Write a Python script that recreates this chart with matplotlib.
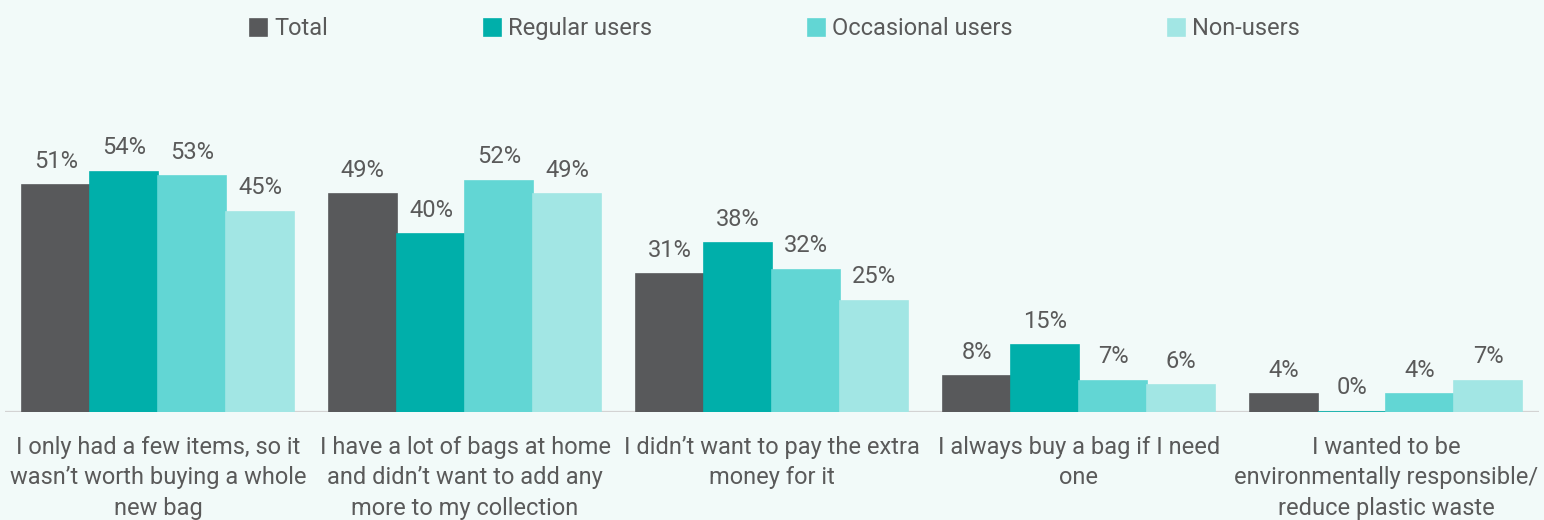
import matplotlib
matplotlib.use("Agg")
import matplotlib.pyplot as plt
import numpy as np

categories = [
    "I only had a few items, so it\nwasn\u2019t worth buying a whole\nnew bag",
    "I have a lot of bags at home\nand didn\u2019t want to add any\nmore to my collection",
    "I didn\u2019t want to pay the extra\nmoney for it",
    "I always buy a bag if I need\none",
    "I wanted to be\nenvironmentally responsible/\nreduce plastic waste",
]
series_names = ["Total", "Regular users", "Occasional users", "Non-users"]
total = [51, 49, 31, 8, 4]
regular = [54, 40, 38, 15, 0]
occasional = [53, 52, 32, 7, 4]
non_users = [45, 49, 25, 6, 7]
values = [total, regular, occasional, non_users]
colors = ["#58595B", "#00AFAA", "#62D6D4", "#A2E6E4"]

bg = "#F2FAF9"
text_color = "#5A5A5A"
fs = 17

plt.rcParams["font.family"] = ["Roboto", "DejaVu Sans"]

fig = plt.figure(figsize=(15.44, 5.2), dpi=100, facecolor=bg)
ax = fig.add_axes([0.003, 0.2077, 0.994, 0.672])
ax.set_facecolor(bg)

n = len(categories)
x = np.arange(n)
bw = 0.222
offsets = (np.arange(4) - 1.5) * bw

for i, (name, vals, c) in enumerate(zip(series_names, values, colors)):
    bars = ax.bar(x + offsets[i], vals, width=bw, color=c, label=name,
                  edgecolor=c, linewidth=1.2, zorder=2)
    ax.bar_label(bars, labels=[f"{v}%" for v in vals], padding=9,
                 fontsize=fs, color=text_color)

ax.set_xlim(-0.5, n - 0.5)
ax.set_ylim(0, 78.6)
ax.axhline(0, color="#D3D3D3", linewidth=1.6, zorder=1)

for s in ax.spines.values():
    s.set_visible(False)
ax.set_yticks([])
ax.set_xticks(x)
ax.set_xticklabels(categories, fontsize=fs, color=text_color,
                   linespacing=1.42)
ax.tick_params(axis="x", length=0, pad=17)

leg = fig.legend(loc="upper center", bbox_to_anchor=(0.502, 1.012), ncol=4,
                 frameon=False, fontsize=fs, handlelength=0.72,
                 handleheight=0.72, handletextpad=0.3, columnspacing=6.6,
                 borderaxespad=0.6)
for t in leg.get_texts():
    t.set_color(text_color)

fig.savefig("out.png", dpi=100, facecolor=bg)
